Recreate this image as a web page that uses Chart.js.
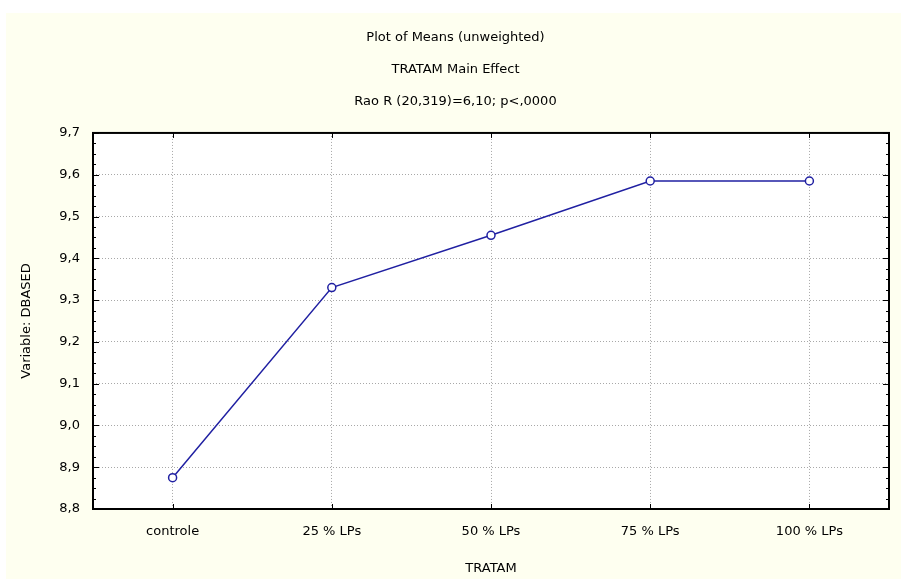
<!DOCTYPE html>
<html>
<head>
<meta charset="utf-8">
<script src="https://cdn.jsdelivr.net/npm/chart.js@4/dist/chart.umd.min.js"></script>
<style>
  html, body { margin: 0; padding: 0; background: #ffffff; }
  #wrap { position: absolute; left: 0; top: 0; width: 901px; height: 579px; }
</style>
</head>
<body>
<div id="wrap"><canvas id="c" width="901" height="579"></canvas></div>
<script>
const categories = ['controle', '25 % LPs', '50 % LPs', '75 % LPs', '100 % LPs'];
const meanValues = [8.875, 9.33, 9.455, 9.585, 9.585];
const titleLines = ['Plot of Means (unweighted)', 'TRATAM Main Effect', 'Rao R (20,319)=6,10; p<,0000'];
const xAxisTitle = 'TRATAM';
const yAxisTitle = 'Variable: DBASED';
const yMin = 8.8, yMax = 9.7, yStep = 0.1, yMinorStep = 0.025;

const FONT = { family: '"DejaVu Sans", Verdana, sans-serif', size: 13 };

const bgPlugin = {
  id: 'bg',
  afterLayout(chart) {
    if (chart.titleBlock) {
      chart.titleBlock.left += 22;
    }
  },
  beforeDraw(chart) {
    const ctx = chart.ctx;
    ctx.save();
    ctx.fillStyle = '#ffffff';
    ctx.fillRect(0, 0, chart.width, chart.height);
    ctx.fillStyle = '#fefff0';
    ctx.fillRect(6, 13, chart.width - 6, chart.height - 13);
    const a = chart.chartArea;
    ctx.fillStyle = '#ffffff';
    ctx.fillRect(a.left, a.top, a.right - a.left, a.bottom - a.top);
    ctx.restore();
  },
  afterDatasetsDraw(chart) {
    const ctx = chart.ctx;
    const a = chart.chartArea;
    const y = chart.scales.y, x = chart.scales.x;
    ctx.save();
    ctx.strokeStyle = '#000000';
    ctx.lineWidth = 1;
    ctx.beginPath();
    const nMinor = Math.round((yMax - yMin) / yMinorStep);
    for (let i = 0; i <= nMinor; i++) {
      const v = yMin + i * yMinorStep;
      const py = Math.round(y.getPixelForValue(v)) + 0.5;
      const major = (i % 4 === 0);
      const len = major ? 6 : 3;
      ctx.moveTo(a.left, py); ctx.lineTo(a.left + len, py);
      ctx.moveTo(a.right, py); ctx.lineTo(a.right - len, py);
    }
    for (let i = 0; i < categories.length; i++) {
      const px = Math.round(x.getPixelForValue(i)) + 0.5;
      ctx.moveTo(px, a.bottom); ctx.lineTo(px, a.bottom - 5);
      ctx.moveTo(px, a.top); ctx.lineTo(px, a.top + 5);
    }
    ctx.stroke();
    ctx.lineWidth = 2;
    ctx.strokeRect(a.left, a.top, a.right - a.left, a.bottom - a.top);
    ctx.restore();
  }
};

new Chart(document.getElementById('c'), {
  type: 'line',
  data: {
    labels: categories,
    datasets: [{
      data: meanValues,
      borderColor: '#2020a2',
      borderWidth: 1.5,
      backgroundColor: '#ffffff',
      pointBackgroundColor: '#ffffff',
      pointBorderColor: '#2020a2',
      pointBorderWidth: 1.5,
      pointRadius: 4,
      tension: 0,
      fill: false,
      clip: false
    }]
  },
  options: {
    responsive: false,
    animation: false,
    devicePixelRatio: 1,
    layout: { padding: { left: 0, right: 12, top: 0, bottom: 0 } },
    plugins: {
      legend: { display: false },
      tooltip: { enabled: false },
      title: {
        display: true,
        text: titleLines,
        color: '#000000',
        font: { family: FONT.family, size: 13, weight: 'normal', lineHeight: 2.46 },
        padding: { top: 22, bottom: 15 }
      }
    },
    scales: {
      x: {
        type: 'category',
        offset: true,
        grid: { display: true, color: '#a8a8a8', drawTicks: false, offset: false, lineWidth: 1 },
        border: { display: false, dash: [1, 2] },
        ticks: { color: '#000000', font: FONT, padding: 15, maxRotation: 0, autoSkip: false },
        title: { display: true, text: xAxisTitle, color: '#000000', font: FONT, padding: { top: 0, bottom: 3 } },
        afterFit(scale) { scale.height = 70; }
      },
      y: {
        min: yMin,
        max: yMax,
        grid: { display: true, color: '#a8a8a8', drawTicks: false, lineWidth: 1 },
        border: { display: false, dash: [1, 2] },
        ticks: {
          stepSize: yStep,
          color: '#000000',
          font: FONT,
          padding: 13,
          callback: (v) => Number(v).toFixed(1).replace('.', ',')
        },
        title: { display: true, text: yAxisTitle, color: '#000000', font: FONT, padding: { top: 19, bottom: 0 } },
        afterFit(scale) { scale.width = 93; }
      }
    }
  },
  plugins: [bgPlugin]
});
</script>
</body>
</html>
